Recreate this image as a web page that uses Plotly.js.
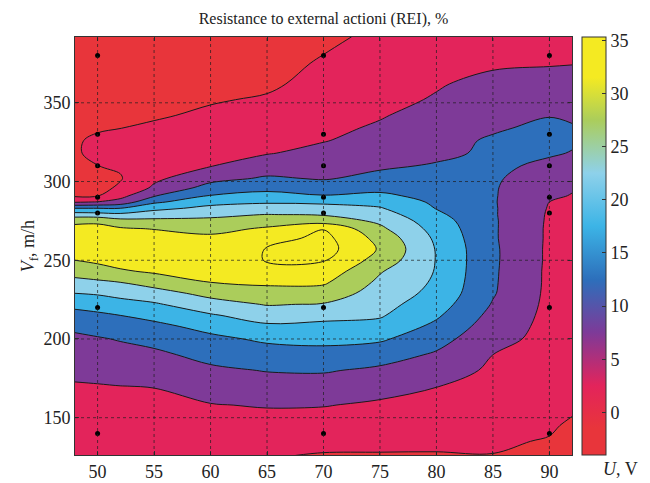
<!DOCTYPE html>
<html><head><meta charset="utf-8">
<script src="https://cdn.plot.ly/plotly-3.0.1.min.js"></script>
<style>html,body{margin:0;padding:0;background:#fff}</style>
</head><body><div id="chart" style="width:650px;height:483px"></div>
<script>
// U, V (columns of the grid)
var uGrid = [48, 50, 52, 55, 60, 65, 70, 75, 80, 85, 90, 92];
// Vf, m/h (rows of the grid)
var vGrid = [126, 135, 145, 158, 170, 180, 190, 200, 208, 215, 222, 229, 236, 243, 250, 257, 264, 270, 275, 279, 283, 287, 291, 296, 302, 310, 318, 326, 334, 342, 352, 362, 375, 392];
// REI, % (one row per vGrid value, one column per uGrid value)
var rei = [
 [2.0, 2.3, 2.2, 2.3, 1.8, 0.3, -0.3, -0.3, -0.3, -0.1, -1.2, -3.0],
 [2.55, 2.8, 2.8, 2.8, 2.6, 1.6, 1.2, 1.0, 0.85, 0.6, -0.3, -2.2],
 [3.2, 3.3, 3.4, 3.4, 3.6, 3.2, 2.9, 2.5, 2.1, 1.4, 0.6, -0.7],
 [3.95, 4.1, 4.2, 4.1, 4.8, 5.3, 5.2, 4.3, 3.6, 2.5, 1.6, 0.9],
 [4.7, 4.8, 4.96, 5.1, 7.0, 8.0, 8.0, 6.7, 5.1, 3.4, 2.4, 1.8],
 [5.8, 6.1, 6.7, 7.1, 9.1, 10.2, 10.4, 9.1, 7.3, 4.2, 2.9, 2.3],
 [7.45, 7.8, 8.4, 9.0, 11.5, 12.9, 13.3, 12.1, 9.4, 5.0, 3.3, 2.7],
 [9.1, 9.6, 10.3, 11.5, 13.9, 15.8, 16.3, 15.7, 11.8, 6.5, 3.6, 3.0],
 [10.9, 11.8, 12.8, 13.8, 16.5, 19.2, 18.8, 18.5, 13.9, 7.6, 3.7, 3.2],
 [13.4, 14.1, 15.0, 16.4, 19.5, 22.2, 21.4, 20.5, 15.7, 8.6, 3.8, 3.3],
 [16.3, 17.1, 18.2, 19.4, 23.0, 25.3, 24.7, 21.7, 17.3, 9.65, 3.9, 3.4],
 [20.0, 20.5, 21.5, 23.0, 26.5, 28.2, 27.8, 22.9, 18.6, 10.4, 4.0, 3.5],
 [23.6, 24.2, 25.0, 27.0, 30.0, 30.8, 30.7, 24.0, 19.3, 10.6, 4.1, 3.6],
 [26.9, 27.9, 29.4, 30.7, 32.0, 33.0, 33.1, 25.4, 19.7, 10.7, 4.1, 3.6],
 [30.0, 31.0, 32.0, 32.6, 34.3, 35.1, 35.3, 28.0, 19.8, 10.8, 4.2, 3.7],
 [31.8, 33.1, 34.1, 33.9, 34.0, 35.1, 37.0, 29.5, 19.7, 10.8, 4.2, 3.7],
 [32.9, 33.2, 32.8, 32.4, 31.0, 32.7, 36.5, 28.3, 19.1, 10.6, 4.3, 3.8],
 [31.2, 31.1, 30.6, 29.8, 28.6, 30.6, 34.8, 26.0, 18.2, 10.6, 4.3, 3.9],
 [29.0, 29.3, 26.8, 26.2, 26.1, 27.8, 27.6, 24.1, 17.2, 10.6, 4.4, 4.0],
 [22.3, 21.9, 21.1, 22.7, 23.9, 25.1, 24.6, 22.3, 16.0, 10.5, 4.5, 4.2],
 [15.0, 15.0, 15.0, 18.6, 21.3, 22.3, 22.0, 20.4, 14.8, 10.5, 4.7, 4.4],
 [4.5, 5.2, 6.8, 14.1, 18.4, 19.4, 19.0, 18.2, 14.2, 10.4, 5.0, 4.6],
 [-0.8, -0.3, 3.4, 9.6, 15.2, 16.6, 15.2, 15.9, 13.5, 10.4, 5.8, 4.8],
 [-2.2, -1.2, 0.6, 5.8, 11.9, 13.6, 12.4, 13.7, 12.7, 10.4, 6.6, 5.4],
 [-2.5, -1.4, -0.3, 4.0, 8.4, 10.6, 9.6, 11.3, 11.8, 10.6, 7.5, 6.6],
 [-1.5, -0.05, 0.5, 3.0, 4.8, 7.4, 8.0, 9.3, 10.4, 11.0, 9.0, 8.2],
 [-0.6, 1.3, 1.3, 2.4, 3.8, 4.75, 6.3, 8.0, 9.0, 10.8, 10.5, 9.8],
 [-0.5, 0.8, 1.0, 1.8, 2.8, 3.75, 4.8, 6.5, 8.4, 10.6, 11.4, 10.6],
 [-1.2, -0.5, -0.05, 0.7, 1.8, 2.75, 4.1, 5.5, 7.5, 9.4, 11.1, 10.4],
 [-1.8, -1.3, -0.9, -0.5, 0.8, 1.75, 3.4, 4.7, 6.5, 8.4, 9.8, 9.3],
 [-2.4, -2.0, -1.6, -1.3, -0.4, 0.5, 2.5, 4.0, 5.3, 7.2, 8.3, 7.8],
 [-2.9, -2.6, -2.2, -2.0, -1.2, -0.8, 1.6, 3.2, 4.7, 6.0, 6.7, 6.3],
 [-3.3, -3.1, -2.8, -2.6, -2.0, -1.6, 0.5, 2.2, 4.2, 4.5, 4.7, 4.9],
 [-3.8, -3.6, -3.3, -3.1, -2.8, -2.4, -1.0, 1.0, 3.5, 3.8, 3.0, 2.8]
];
// measured points (black dots)
var sampleU = [50, 70, 90];
var sampleV = [140, 220, 280, 290, 310, 330, 380];
// ticks
var xTicks = [50, 55, 60, 65, 70, 75, 80, 85, 90];
var yTicks = [150, 200, 250, 300, 350];
var cbTicks = [0, 5, 10, 15, 20, 25, 30, 35];
// contour levels and band colours (<0, 0-5, ..., 30-35, >35)
var levelStart = 0, levelEnd = 35, levelStep = 5;
var bandColors = ['#e8353b', '#e3245b', '#7e3a98', '#2d6fbb', '#3cb4e6', '#8ed1ea', '#abcd5b', '#f4ea22', '#f4ea22'];
// colour bar gradient
var cbMin = -4, cbMax = 35.3;
var cbStops = [-4, -1.5, 2.5, 7.5, 12.5, 17.5, 22.5, 27.5, 31.5, 35.3];
var cbColors = ['#e8353b', '#e8353b', '#e3245b', '#7e3a98', '#2d6fbb', '#3cb4e6', '#8ed1ea', '#abcd5b', '#f4ea22', '#f4ea22'];

var serif = 'Liberation Serif, Times New Roman, serif';

var contourScale = bandColors.map(function (c, i) { return [i / (bandColors.length - 1), c]; });
var cbScale = cbStops.map(function (v, i) { return [(v - cbMin) / (cbMax - cbMin), cbColors[i]]; });

var ptsU = [], ptsV = [];
sampleU.forEach(function (u) { sampleV.forEach(function (v) { ptsU.push(u); ptsV.push(v); }); });

var traces = [
  {
    type: 'contour', x: uGrid, y: vGrid, z: rei,
    autocontour: false,
    contours: { start: levelStart, end: levelEnd, size: levelStep, coloring: 'fill' },
    colorscale: contourScale,
    line: { color: '#1a1a1a', width: 1, smoothing: 1.0 },
    showscale: false, hoverinfo: 'skip'
  },
  {
    type: 'scatter', mode: 'markers', x: ptsU, y: ptsV,
    marker: { color: '#000', size: 5 }, hoverinfo: 'skip', showlegend: false
  },
  {
    type: 'scatter', mode: 'markers', x: [sampleU[0]], y: [sampleV[0]],
    marker: {
      color: [cbMin], cmin: cbMin, cmax: cbMax, colorscale: cbScale, opacity: 0, size: 1,
      showscale: true,
      colorbar: {
        x: 1.0201, xanchor: 'left', xpad: 0, ypad: 0, thickness: 24,
        len: 1, lenmode: 'fraction', y: 0.5, yanchor: 'middle',
        outlinewidth: 1, outlinecolor: '#333',
        tickvals: cbTicks, ticks: 'inside', ticklen: 4, tickcolor: '#333',
        tickfont: { family: serif, size: 18, color: '#222' }
      }
    },
    hoverinfo: 'skip', showlegend: false
  }
];

var shapes = [];
xTicks.forEach(function (t) {
  shapes.push({ type: 'line', xref: 'x', yref: 'paper', x0: t, x1: t, y0: 0, y1: 1, layer: 'above',
    line: { color: 'rgba(30,30,30,0.7)', width: 1, dash: 'dot' } });
});
yTicks.forEach(function (t) {
  shapes.push({ type: 'line', xref: 'paper', yref: 'y', x0: 0, x1: 1, y0: t, y1: t, layer: 'above',
    line: { color: 'rgba(30,30,30,0.7)', width: 1, dash: 'dot' } });
});

var axisCommon = {
  showgrid: false, zeroline: false, showline: true, mirror: 'ticks', linecolor: '#333', linewidth: 1,
  ticks: 'inside', ticklen: 4, tickcolor: '#333',
  tickfont: { family: serif, size: 18, color: '#222' }
};

var layout = {
  width: 650, height: 483,
  margin: { l: 75, r: 78, t: 37, b: 28 },
  paper_bgcolor: '#fff', plot_bgcolor: '#fff',
  showlegend: false,
  title: { text: 'Resistance to external actioni (REI), %', font: { family: serif, size: 16, color: '#222' },
    x: 0.5, xref: 'paper', y: 0.962, yref: 'container', yanchor: 'middle' },
  xaxis: Object.assign({ range: [48, 92], tickvals: xTicks }, axisCommon),
  yaxis: Object.assign({ range: [126.3, 391.8], tickvals: yTicks }, axisCommon),
  shapes: shapes,
  annotations: [
    { text: '<i>U</i>, V', xref: 'paper', yref: 'paper', x: 1.097, y: -0.033, xanchor: 'center', yanchor: 'middle',
      showarrow: false, font: { family: serif, size: 18, color: '#222' } },
    { text: '<i>V</i><sub>f</sub>, m/h', xref: 'paper', yref: 'paper', x: -0.092, y: 0.5, xanchor: 'center', yanchor: 'middle',
      textangle: -90, showarrow: false, font: { family: serif, size: 18, color: '#222' } }
  ]
};

Plotly.newPlot('chart', traces, layout, { displayModeBar: false, staticPlot: true });
</script>
</body></html>
